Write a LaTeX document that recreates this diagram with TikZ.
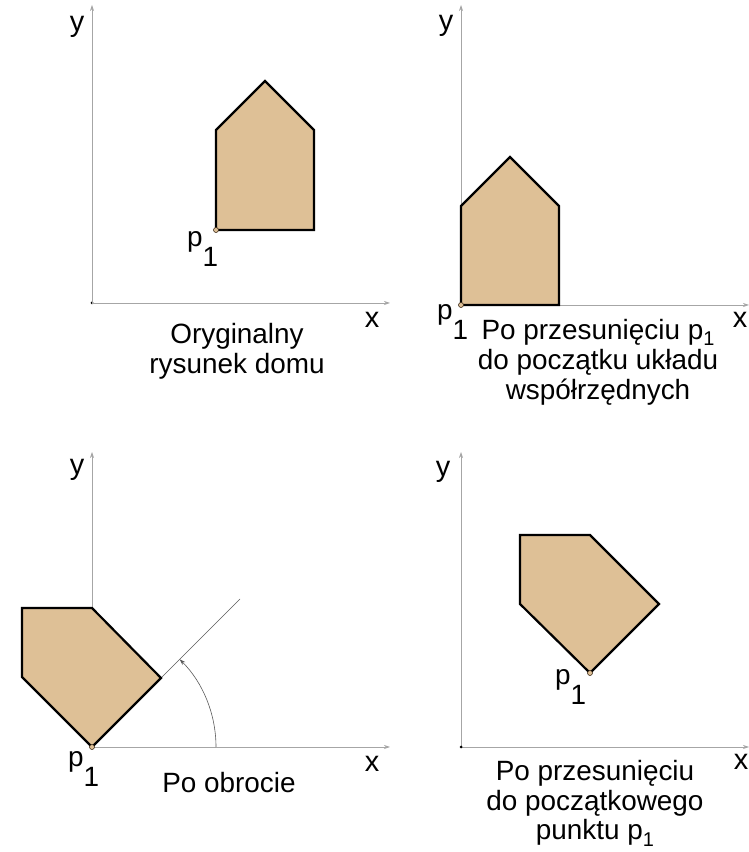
\documentclass[tikz,border=0pt]{standalone}
\usepackage{fontspec}
\setmainfont{Liberation Sans}
\usepackage{tikz}
\usetikzlibrary{arrows.meta}
\definecolor{housetan}{RGB}{222,192,150}

\newcommand{\pone}{p\raisebox{-20bp}{1}}
\newcommand{\pones}{p\raisebox{-0.22em}{\fontsize{20}{20}\selectfont 1}}

\begin{document}
\begin{tikzpicture}[x=1bp, y=1bp,
  axis/.style={gray!70, line width=0.7bp, -{Stealth[length=6bp, width=4bp]}},
  house/.style={draw=black, fill=housetan, line width=2.2bp, line join=miter},
  pdot/.style={circle, draw=black!70!brown, fill=housetan, line width=0.6bp, inner sep=0pt, minimum size=5bp},
  odot/.style={circle, fill=black, inner sep=0pt, minimum size=3bp},
  axlbl/.style={font=\fontsize{29}{29}\selectfont, inner sep=0pt},
  plbl/.style={font=\fontsize{28}{28}\selectfont, anchor=base west, inner sep=0pt},
  caption/.style={font=\fontsize{28}{30}\selectfont, align=center, inner sep=0pt}]
  \useasboundingbox (0,0) rectangle (749,852);
  % Panel 1: original house
  \node[odot] (o1) at (92,549) {};
  \coordinate (y1) at (92,847);
  \coordinate (x1) at (390,549);
  \draw[axis] (o1.center) -- (y1);
  \draw[axis] (o1.center) -- (x1);
  \draw[house] (216,622) -- (314,622) -- (314,722) -- (265,771) -- (216,722) -- cycle;
  \node[pdot] (p1a) at (216,622) {};
  \node[axlbl] (ylbl1) at (77,825) {y};
  \node[axlbl] (xlbl1) at (372,532) {x};
  \node[plbl] (plbl1) at (187,605) {\pone};
  \node[caption] (cap1) at (237,501) {Oryginalny\\rysunek domu};
  % Panel 2: p1 moved to origin
  \coordinate (o2) at (461,547);
  \coordinate (y2) at (461,847);
  \coordinate (x2) at (749,547);
  \draw[axis] (o2) -- (y2);
  \draw[axis] (o2) -- (x2);
  \draw[house] (461,547) -- (559,547) -- (559,646) -- (510,695) -- (461,646) -- cycle;
  \node[pdot] (p1b) at (o2) {};
  \node[axlbl] (ylbl2) at (446,826) {y};
  \node[axlbl] (xlbl2) at (740,532) {x};
  \node[plbl] (plbl2) at (437,532) {\pone};
  \node[caption] (cap2) at (598,490) {Po przesunięciu \pones\\do początku układu\\współrzędnych};
  % Panel 3: rotation about origin
  \coordinate (o3) at (92,105);
  \coordinate (y3) at (92,400);
  \coordinate (x3) at (390,105);
  \coordinate (r3) at (240,253);
  \draw[axis] (o3) -- (y3);
  \draw[axis] (o3) -- (x3);
  \draw[gray!70!black, line width=0.6bp] (o3) -- (r3);
  \draw[gray!70!black, line width=0.6bp, -{Stealth[length=6bp, width=4bp]}]
    (216,105) arc[start angle=0, end angle=45, radius=124];
  \draw[house] (92,105) -- (161,174) -- (92,244) -- (22,244) -- (22,175) -- cycle;
  \node[pdot] (p1c) at (o3) {};
  \node[axlbl] (ylbl3) at (77,382) {y};
  \node[axlbl] (xlbl3) at (372,88) {x};
  \node[plbl] (plbl3) at (68,85) {\pone};
  \node[caption] (cap3) at (229,69) {Po obrocie};
  % Panel 4: moved back to p1
  \coordinate (o4) at (461,105);
  \coordinate (y4) at (461,400);
  \coordinate (x4) at (749,105);
  \draw[axis] (o4) -- (y4);
  \draw[axis] (o4) -- (x4);
  \draw[house] (590,179) -- (659,248) -- (590,317) -- (520,317) -- (520,248) -- cycle;
  \node[pdot] (p1d) at (590,179) {};
  \node[odot] at (o4) {};
  \node[axlbl] (ylbl4) at (443,380) {y};
  \node[axlbl] (xlbl4) at (741,90) {x};
  \node[plbl] (plbl4) at (555,167) {\pone};
  \node[caption] (cap4) at (595,49) {Po przesunięciu\\do początkowego\\punktu \pones};
\end{tikzpicture}
\end{document}
